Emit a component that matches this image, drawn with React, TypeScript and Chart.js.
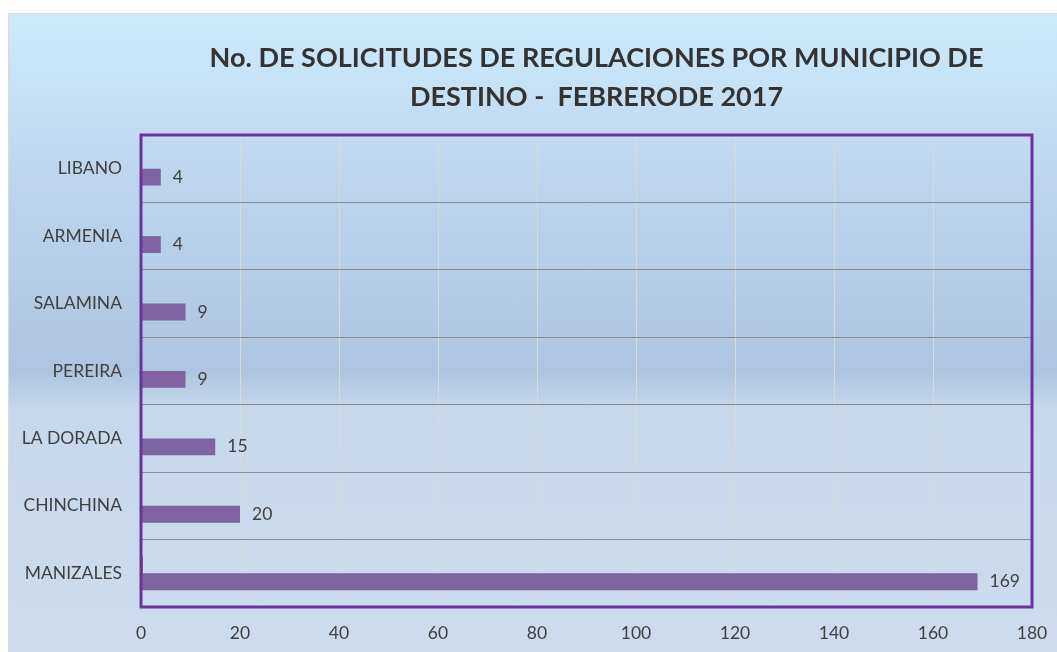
import React, { useEffect, useRef } from "react";
import { Chart, registerables } from "chart.js";

Chart.register(...registerables);

const categories = ["LIBANO", "ARMENIA", "SALAMINA", "PEREIRA", "LA DORADA", "CHINCHINA", "MANIZALES"];
const secondaryValues = [0, 0, 0, 0, 0, 0, 0.4];
const requestValues = [4, 4, 9, 9, 15, 20, 169];
const titleLines = ["No. DE SOLICITUDES DE REGULACIONES POR MUNICIPIO DE", "DESTINO -  FEBRERODE 2017"];
const xMin = 0;
const xMax = 180;
const xStep = 20;

const FONT = "Lato, 'Open Sans', sans-serif";

export default function App() {
  const canvasRef = useRef<HTMLCanvasElement | null>(null);

  useEffect(() => {
    const canvas = canvasRef.current;
    if (!canvas) return;

    const titlePlugin = {
      id: "customTitle",
      afterDraw(chart: any) {
        const { ctx, chartArea } = chart;
        ctx.save();
        ctx.fillStyle = "#333333";
        ctx.font = `bold 27px ${FONT}`;
        ctx.textAlign = "center";
        ctx.textBaseline = "middle";
        const cx = (chartArea.left + chartArea.right) / 2 + 10;
        ctx.fillText(titleLines[0], cx, 44);
        ctx.fillText(titleLines[1], cx, 83);
        ctx.restore();
      },
    };

    const borderPlugin = {
      id: "plotBorder",
      afterDatasetsDraw(chart: any) {
        const { ctx, chartArea } = chart;
        ctx.save();
        ctx.strokeStyle = "#7030A0";
        ctx.lineWidth = 3;
        ctx.strokeRect(chartArea.left, chartArea.top, chartArea.right - chartArea.left, chartArea.bottom - chartArea.top);
        ctx.restore();
      },
    };

    const labelPlugin = {
      id: "valueLabels",
      afterDatasetsDraw(chart: any) {
        const { ctx } = chart;
        const meta = chart.getDatasetMeta(1);
        ctx.save();
        ctx.fillStyle = "#404040";
        ctx.font = `17.5px ${FONT}`;
        ctx.textAlign = "left";
        ctx.textBaseline = "middle";
        meta.data.forEach((el: any, i: number) => {
          ctx.fillText(String(requestValues[i]), el.x + 12, el.y);
        });
        ctx.restore();
      },
    };

    const chart = new Chart(canvas, {
      type: "bar",
      data: {
        labels: categories,
        datasets: [
          {
            label: "Serie 1",
            data: secondaryValues,
            backgroundColor: "#C0504D",
            categoryPercentage: 0.5,
            barPercentage: 1,
          },
          {
            label: "Solicitudes",
            data: requestValues,
            backgroundColor: "#8064A2",
            categoryPercentage: 0.5,
            barPercentage: 1,
          },
        ],
      },
      options: {
        indexAxis: "y",
        animation: false,
        responsive: false,
        layout: { padding: { top: 121, right: 25, left: 0, bottom: 0 } },
        plugins: {
          legend: { display: false },
          title: { display: false },
          tooltip: { enabled: false },
        },
        scales: {
          x: {
            min: xMin,
            max: xMax,
            ticks: {
              stepSize: xStep,
              color: "#404040",
              font: { family: FONT, size: 17.5 },
              padding: 16,
            },
            grid: { color: "#D9D9D9", lineWidth: 1, drawTicks: false },
            border: { display: false },
            afterFit(scale: any) {
              scale.height = 45;
              scale.paddingRight = 0;
              scale.paddingLeft = 0;
            },
          },
          y: {
            ticks: {
              color: "#404040",
              font: { family: FONT, size: 17.5 },
              padding: 19,
            },
            grid: { color: "#8C8C8C", lineWidth: 1, drawTicks: false, offset: true },
            border: { display: false },
            afterFit(scale: any) {
              scale.width = 132;
            },
          },
        },
      },
      plugins: [borderPlugin, labelPlugin, titlePlugin],
    });

    return () => chart.destroy();
  }, []);

  return (
    <div
      style={{
        position: "fixed",
        left: 8,
        top: 13,
        width: 1049,
        height: 639,
        borderTop: "1px solid #D9D9D9",
        borderLeft: "1px solid #D9D9D9",
        boxSizing: "border-box",
        background:
          "linear-gradient(to bottom, #CDEBFD 0%, #BDD6EE 25%, #ADC5E0 56%, #C6D8EC 62%, #CCDCEE 100%)",
        overflow: "hidden",
      }}
    >
      <canvas ref={canvasRef} width={1048} height={638} style={{ display: "block" }} />
    </div>
  );
}
